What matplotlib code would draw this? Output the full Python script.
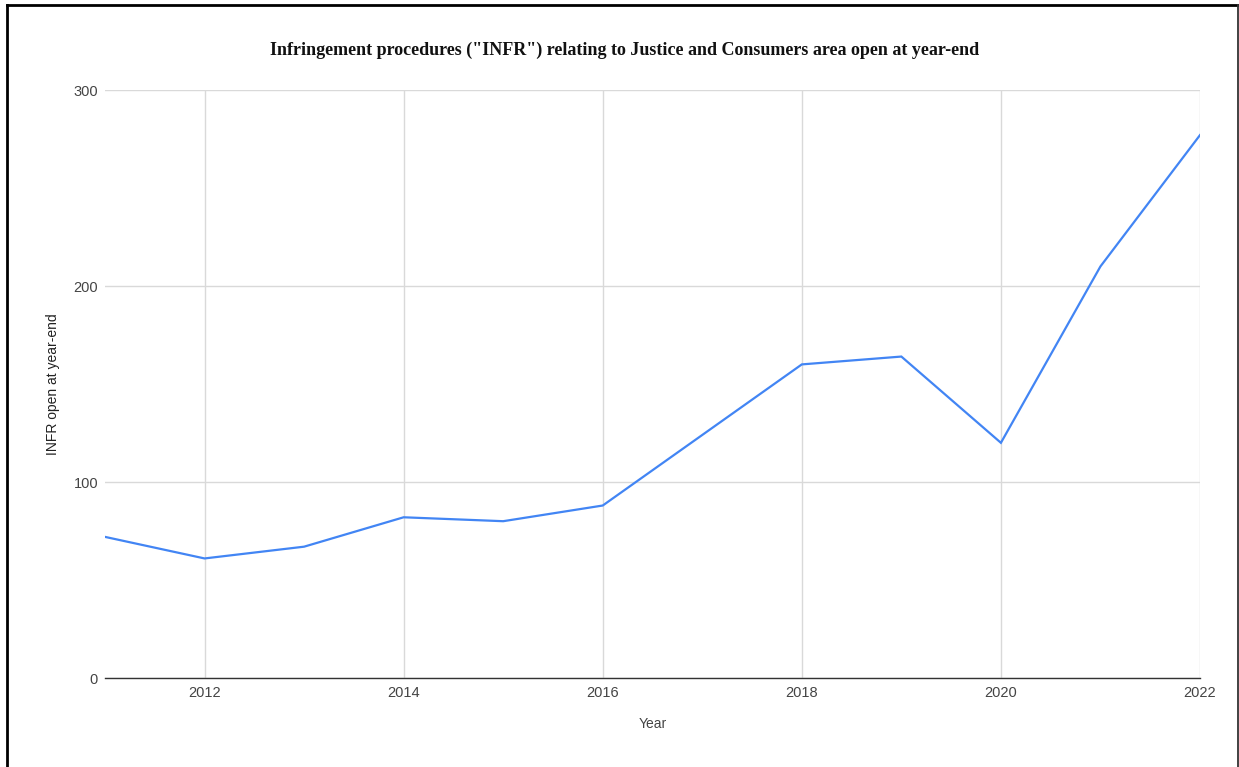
import matplotlib
matplotlib.use("Agg")
import matplotlib.pyplot as plt
from matplotlib.lines import Line2D

# data
years = [2011, 2012, 2013, 2014, 2015, 2016, 2017, 2018, 2019, 2020, 2021, 2022]
infr_open = [72, 61, 67, 82, 80, 88, 124, 160, 164, 120, 210, 277]
x_ticks = [2012, 2014, 2016, 2018, 2020, 2022]
y_ticks = [0, 100, 200, 300]

plt.rcParams['font.family'] = ['Liberation Sans', 'DejaVu Sans']

fig = plt.figure(figsize=(12.39, 7.67), dpi=100)
ax = fig.add_axes([105/1239, 1-678/767, (1200-105)/1239, (678-90)/767])

ax.plot(years, infr_open, color='#4285F4', linewidth=1.6, solid_joinstyle='miter')

ax.set_xlim(2011, 2022)
ax.set_ylim(0, 300)
ax.set_xticks(x_ticks)
ax.set_yticks(y_ticks)
ax.grid(True, color='#d9d9d9', linewidth=1)
ax.set_axisbelow(True)
ax.tick_params(length=0, labelsize=10.5, labelcolor='#444444')
ax.tick_params(axis='x', pad=6)
ax.tick_params(axis='y', pad=5)

for s in ['top', 'right', 'left']:
    ax.spines[s].set_visible(False)
ax.spines['bottom'].set_color('#333333')
ax.spines['bottom'].set_linewidth(1)

ax.set_xlabel('Year', fontsize=10, color='#444444', labelpad=12)
ax.set_ylabel('INFR open at year-end', fontsize=10, color='#222222', labelpad=10)

fig.text(625/1239, 1-50/767,
         'Infringement procedures ("INFR") relating to Justice and Consumers area open at year-end',
         ha='center', va='center', fontsize=13, fontweight='bold',
         family=['Liberation Serif', 'DejaVu Serif'], color='#111111')

# frame around the picture (left, top, right)
fig.add_artist(Line2D([6.5/1239, 6.5/1239], [0, 1-5/767], color='black', linewidth=2))
fig.add_artist(Line2D([6.5/1239, 1238/1239], [1-5/767, 1-5/767], color='black', linewidth=2))
fig.add_artist(Line2D([1238/1239, 1238/1239], [0, 1-5/767], color='#333333', linewidth=1.3))

fig.savefig('out.png', dpi=100)
